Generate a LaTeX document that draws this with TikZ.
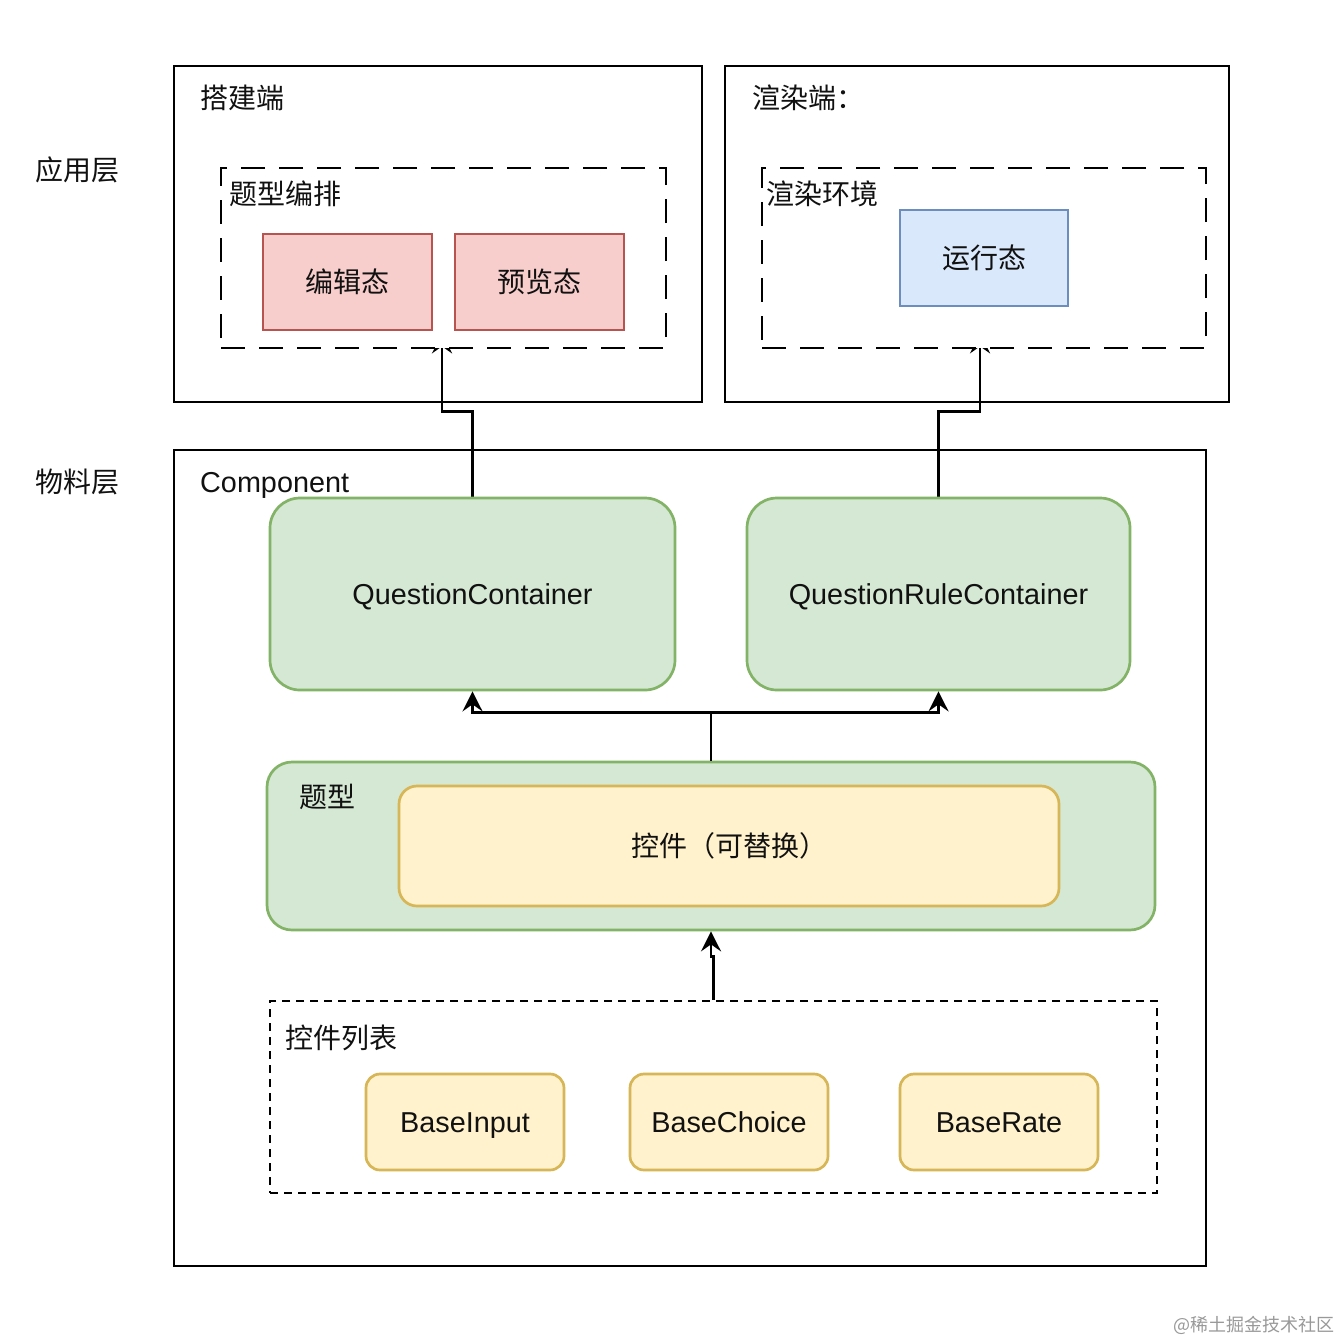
\documentclass[tikz,border=0pt]{standalone}
\usepackage{fontspec}
\setmainfont{Liberation Sans}
\newfontfamily\cjk{Noto Sans CJK SC}
\usetikzlibrary{arrows.meta,calc}
\pgfdeclarelayer{background}
\pgfdeclarelayer{canvas}
\pgfsetlayers{canvas,background,main}
\definecolor{redfill}{HTML}{F8CECC}\definecolor{redline}{HTML}{B85450}
\definecolor{bluefill}{HTML}{DAE8FC}\definecolor{blueline}{HTML}{6C8EBF}
\definecolor{greenfill}{HTML}{D5E8D4}\definecolor{greenline}{HTML}{82B366}
\definecolor{yelfill}{HTML}{FFF2CC}\definecolor{yelline}{HTML}{D6B656}
\definecolor{txt}{HTML}{111111}
\begin{document}
\begin{tikzpicture}[x=1pt,y=-1pt,
  every node/.style={inner sep=0pt,text=txt,font=\fontsize{28}{32}\selectfont},
  latin/.style={font=\fontsize{28.8}{32}\selectfont,text height=20.5pt,text depth=0pt},
  box/.style={draw=black,line width=2.7pt,minimum width=#1},
  bigdash/.style={draw=black,fill=white,line width=2.7pt,dash pattern=on 24pt off 14pt},
  smalldash/.style={draw=black,line width=2.7pt,dash pattern=on 8pt off 6pt},
  redbox/.style={draw=redline,fill=redfill,line width=2.7pt,minimum width=169pt,minimum height=96pt},
  bluebox/.style={draw=blueline,fill=bluefill,line width=2.7pt,minimum width=168pt,minimum height=96pt},
  greenbox/.style={draw=greenline,fill=greenfill,line width=2.7pt},
  yelbox/.style={draw=yelline,fill=yelfill,line width=2.7pt},
  lbl/.style={anchor=west},
  arr/.style={draw=black,line width=2.7pt,-{Stealth[length=20pt,width=20pt,inset=7pt]}}
]
\useasboundingbox (0,0) rectangle (1344,1342);
\begin{pgfonlayer}{canvas}
\fill[white] (0,0) rectangle (1344,1342);
\end{pgfonlayer}

% application layer
\node[box=528pt,minimum height=336pt] (outer1) at (438,234) {};
\node[box=504pt,minimum height=336pt] (outer2) at (977,234) {};
\node[lbl] (t1) at (200,98) {\cjk 搭建端};
\node[lbl] (t2) at (752,98) {\cjk 渲染端：};
\node[bigdash,minimum width=445pt,minimum height=180pt] (dash1) at (443.5,258) {};
\node[lbl] (t3) at (229,194) {\cjk 题型编排};
\node[redbox] (edit) at (347.5,282) {\cjk 编辑态};
\node[redbox] (prev) at (539.5,282) {\cjk 预览态};
\node[bigdash,minimum width=444pt,minimum height=180pt] (dash2) at (984,258) {};
\node[lbl] (t4) at (766,194) {\cjk 渲染环境};
\node[bluebox] (run) at (984,258) {\cjk 运行态};

\node[lbl] (l1) at (35,170) {\cjk 应用层};
\node[lbl] (l2) at (35,482) {\cjk 物料层};

% material layer
\node[box=1032pt,minimum height=816pt] (comp) at (690,858) {};
\node[lbl,latin] (t5) at (200,482) {Component};
\node[greenbox,latin,rounded corners=30pt,minimum width=405pt,minimum height=192pt] (qc) at (472.5,594) {QuestionContainer};
\node[greenbox,latin,rounded corners=30pt,minimum width=383pt,minimum height=192pt] (qrc) at (938.5,594) {QuestionRuleContainer};
\node[greenbox,rounded corners=25pt,minimum width=888pt,minimum height=168pt] (tx) at (711,846) {};
\node[lbl] (t6) at (299,797) {\cjk 题型};
\node[yelbox,rounded corners=18pt,minimum width=660pt,minimum height=120pt] (ctrl) at (729,846) {\cjk 控件（可替换）};
\node[smalldash,minimum width=887pt,minimum height=192pt] (list) at (713.5,1097) {};
\node[lbl] (t7) at (285,1038) {\cjk 控件列表};
\node[yelbox,latin,rounded corners=14pt,minimum width=198pt,minimum height=96pt] (bi) at (465,1122) {BaseInput};
\node[yelbox,latin,rounded corners=14pt,minimum width=198pt,minimum height=96pt] (bc) at (729,1122) {BaseChoice};
\node[yelbox,latin,rounded corners=14pt,minimum width=198pt,minimum height=96pt] (br) at (999,1122) {BaseRate};

\node[anchor=east,text=black!40,font=\fontsize{18}{20}\selectfont] (wm) at (1335,1325) {\cjk @稀土掘金技术社区};

% connectors
\begin{pgfonlayer}{background}
\draw[arr] (qc.north) -- ++(0,-85) -| ($(dash1.south)+(-1.5,-16)$);
\draw[arr] (qrc.north) -- ++(0,-85) -| ($(dash2.south)+(-4,-16)$);
\end{pgfonlayer}
\draw[arr] (tx.north) -- ++(0,-48) -| (qc.south);
\draw[arr] (tx.north) -- ++(0,-48) -| (qrc.south);
\draw[arr] (list.north) -- ++(0,-43) -| (tx.south);
\end{tikzpicture}
\end{document}
